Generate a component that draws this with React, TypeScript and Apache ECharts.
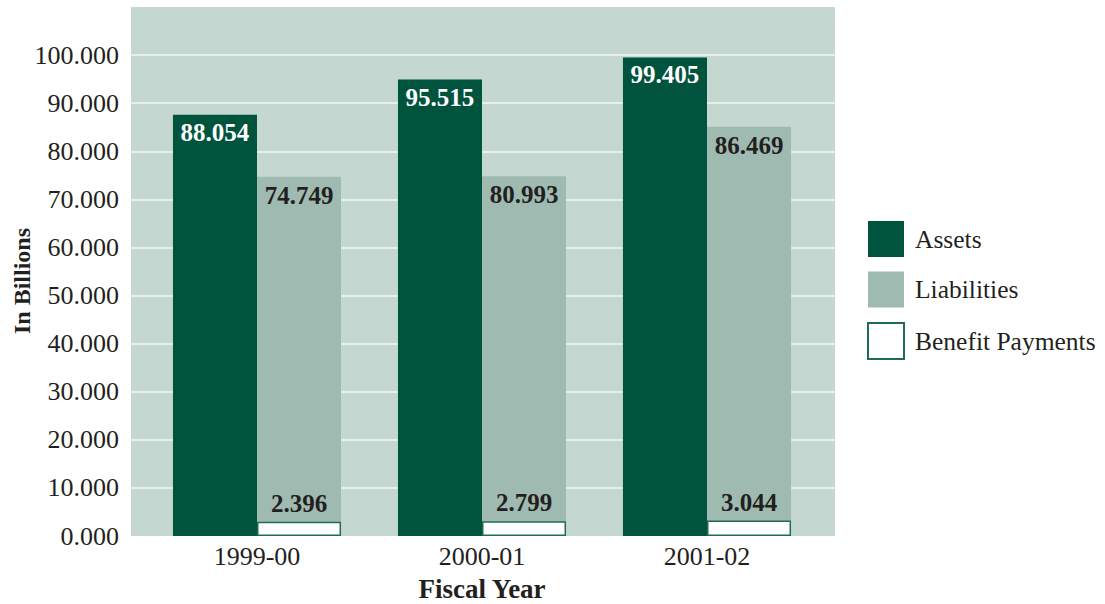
import { useEffect, useRef } from "react";
import * as echarts from "echarts";

const categories = ["1999-00", "2000-01", "2001-02"];
const assets = [87.6, 94.9, 99.5];
const liabilities = [74.7, 74.8, 85.1];
const benefitPayments = [2.95, 3.05, 3.2];
const assetLabels = ["88.054", "95.515", "99.405"];
const liabilityLabels = ["74.749", "80.993", "86.469"];
const benefitLabels = ["2.396", "2.799", "3.044"];
const yMin = 0;
const yMax = 110;
const yStep = 10;

const FONT = "'Liberation Serif', 'DejaVu Serif', serif";
const INK = "#231f20";
const DARK = "#00533c";
const LIGHT = "#9fbab1";
const BG = "#c5d7d1";

export default function App() {
  const ref = useRef<HTMLDivElement>(null);
  useEffect(() => {
    document.body.style.margin = "0";
    const chart = echarts.init(ref.current!, null, { renderer: "svg" });
    const barCommon = {
      type: "bar" as const,
      barGap: "0%",
      barCategoryGap: "25.3%",
      yAxisIndex: 1,
    };
    chart.setOption({
      animation: false,
      textStyle: { fontFamily: FONT },
      grid: [
        {
          left: 131, right: 270, top: 7, bottom: 68, outerBoundsMode: "none",
          show: true, backgroundColor: BG, borderWidth: 0,
        },
        { left: 144.5, right: 285.5, top: 7, bottom: 68, outerBoundsMode: "none" },
      ],
      xAxis: [
        { type: "category", gridIndex: 0, data: categories, show: false },
        {
          type: "category", gridIndex: 1, data: categories,
          axisLine: { show: false }, axisTick: { show: false },
          axisLabel: { color: INK, fontSize: 26, fontFamily: FONT, margin: 7 },
          name: "Fiscal Year", nameLocation: "middle", nameGap: 39,
          nameTextStyle: { color: INK, fontSize: 27, fontWeight: "bold", fontFamily: FONT },
        },
        { type: "category", gridIndex: 1, data: categories, show: false },
      ],
      yAxis: [
        {
          type: "value", gridIndex: 0, min: yMin, max: yMax, interval: yStep,
          axisLine: { show: false }, axisTick: { show: false },
          axisLabel: {
            color: INK, fontSize: 26, fontFamily: FONT, margin: 12,
            showMaxLabel: false,
            formatter: (v: number) => v.toFixed(3),
          },
          splitLine: {
            show: true, showMaxLine: false, showMinLine: false,
            lineStyle: { color: "#f2f6f4", width: 1.5 },
          },
        },
        { type: "value", gridIndex: 1, min: yMin, max: yMax, interval: yStep, show: false },
      ],
      legend: {
        orient: "vertical", left: 862, top: 216,
        itemWidth: 36, itemHeight: 36, itemGap: 14.5,
        icon: "rect",
        data: ["Assets", "Liabilities", "Benefit Payments"],
        textStyle: { color: INK, fontSize: 25.5, fontFamily: FONT, padding: [0, 0, 0, 6] },
      },
      graphic: [
        {
          type: "text", x: 22, y: 281, rotation: Math.PI / 2,
          style: {
            text: "In Billions", fill: INK, fontSize: 24, fontWeight: "bold",
            fontFamily: FONT, align: "center", verticalAlign: "middle",
          },
        },
      ],
      series: [
        {
          ...barCommon, name: "Assets", xAxisIndex: 1, data: assets,
          itemStyle: { color: DARK },
          label: {
            show: true, position: "insideTop", distance: 5,
            color: "#ffffff", fontSize: 25, fontWeight: "bold", fontFamily: FONT,
            formatter: (p: any) => assetLabels[p.dataIndex],
          },
        },
        {
          ...barCommon, name: "Liabilities", xAxisIndex: 1, data: liabilities,
          itemStyle: { color: LIGHT },
          label: {
            show: true, position: "insideTop", distance: 6,
            color: INK, fontSize: 25, fontWeight: "bold", fontFamily: FONT,
            formatter: (p: any) => liabilityLabels[p.dataIndex],
          },
        },
        {
          ...barCommon, name: "_pad", xAxisIndex: 2, data: ["-", "-", "-"],
          itemStyle: { color: "transparent" },
        },
        {
          ...barCommon, name: "Benefit Payments", xAxisIndex: 2, data: benefitPayments,
          itemStyle: { color: "#ffffff", borderColor: "#1f6b55", borderWidth: 1.5 },
          label: {
            show: true, position: "top", distance: 6,
            color: INK, fontSize: 25, fontWeight: "bold", fontFamily: FONT,
            formatter: (p: any) => benefitLabels[p.dataIndex],
          },
        },
      ],
    });
    return () => chart.dispose();
  }, []);
  return <div ref={ref} style={{ width: 1105, height: 604 }} />;
}
